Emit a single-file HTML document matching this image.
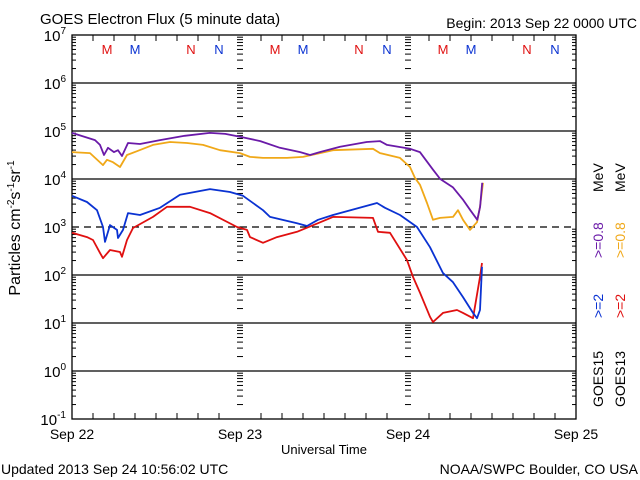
<!DOCTYPE html>
<html><head><meta charset="utf-8"><style>
body{margin:0;background:#fff;}
svg{display:block;font-family:"Liberation Sans",sans-serif;}
</style></head><body>
<svg id="c" width="640" height="480" viewBox="0 0 640 480">
<rect width="640" height="480" fill="#fff"/>
<text x="40" y="24" font-size="15">GOES Electron Flux (5 minute data)</text>
<text x="637" y="28" font-size="14" text-anchor="end">Begin: 2013 Sep 22 0000 UTC</text>
<g id="grid"></g>
<g id="axes"></g>
<g id="series"></g>
<g id="labels"></g>
<text transform="translate(20,228) rotate(-90)" font-size="16" text-anchor="middle">Particles cm<tspan font-size="10" dy="-6">-2</tspan><tspan dy="6">s</tspan><tspan font-size="10" dy="-6">-1</tspan><tspan dy="6">sr</tspan><tspan font-size="10" dy="-6">-1</tspan></text>
<text x="324" y="454" font-size="13" text-anchor="middle">Universal Time</text>
<text x="1" y="474" font-size="14">Updated 2013 Sep 24 10:56:02 UTC</text>
<text x="638" y="474" font-size="14" text-anchor="end">NOAA/SWPC Boulder, CO USA</text>
<g font-size="14">
<text transform="translate(603,407) rotate(-90)">GOES15</text>
<text transform="translate(625,407) rotate(-90)">GOES13</text>
<text transform="translate(603,318) rotate(-90)" fill="#0a32d2">&gt;=2</text>
<text transform="translate(625,318) rotate(-90)" fill="#e01010">&gt;=2</text>
<text transform="translate(603,258) rotate(-90)" fill="#6a1aa8">&gt;=0.8</text>
<text transform="translate(625,258) rotate(-90)" fill="#f0a818">&gt;=0.8</text>
<text transform="translate(603,192) rotate(-90)">MeV</text>
<text transform="translate(625,192) rotate(-90)">MeV</text>
</g>
</svg>
<script>
// data: hours since Sep 22 0000 UTC, log10 flux
const p15Hours=[0,3.29,4.0,4.57,5.14,6.0,6.57,7.14,8.0,9.71,12.57,16.1,19.7,21.9,24,26.9,29.7,32.6,34,35.4,38.3,42.1,44,45,48.3,49.7,51.6,52.6,54.4,55.9,56.9,57.9,58.3,58.6];
const p15Vals=[4.96,4.81,4.71,4.50,4.65,4.56,4.60,4.48,4.75,4.73,4.81,4.90,4.96,4.94,4.88,4.79,4.65,4.56,4.50,4.56,4.67,4.77,4.79,4.71,4.63,4.56,4.19,4.0,3.83,3.56,3.35,3.15,3.42,3.92];
const o13Hours=[0,2.57,4.43,5,5.86,6.86,7.86,9.29,11.57,14,16.43,18.71,21.14,24,25.43,27.29,30.71,33,37.29,43,44,46.86,48.29,49,49.71,50.71,51.57,52.57,54.43,55.14,55.86,56.86,57.86,58.29,58.71];
const o13Vals=[4.56,4.54,4.29,4.40,4.35,4.25,4.50,4.58,4.71,4.77,4.75,4.71,4.60,4.54,4.46,4.44,4.44,4.46,4.60,4.63,4.54,4.44,4.25,4.02,3.88,3.50,3.15,3.19,3.21,3.35,3.15,2.94,3.10,3.42,3.92];
const b15Hours=[0,2.14,3.57,4.43,4.71,5.43,6.43,6.57,7.29,8,9.71,12.57,15.43,19.71,22.57,24.43,27.29,28.29,32.14,33.57,35.14,37.29,43.57,44.71,46.86,49.29,51.14,53,54.43,55.86,57.29,57.86,58.29,58.57];
const b15Vals=[3.65,3.52,3.35,3.0,2.69,3.04,2.94,2.77,2.94,3.29,3.25,3.40,3.67,3.79,3.73,3.65,3.35,3.21,3.08,3.02,3.15,3.25,3.50,3.40,3.25,3.0,2.58,2.04,1.85,1.54,1.21,1.10,1.27,2.17];
const r13Hours=[0,2.14,3,4,4.43,5.43,6.86,7.14,7.86,8.71,11.57,13.57,16.86,19.71,23.57,25,25.43,27.29,29.29,32.14,35.14,37.29,43,43.71,45.43,47.86,48.71,49.71,51.14,51.57,53,55,55.86,57.29,58.29,58.57];
const r13Vals=[2.88,2.79,2.73,2.46,2.35,2.52,2.48,2.38,2.73,2.98,3.21,3.42,3.42,3.29,3.0,2.94,2.79,2.67,2.79,2.90,3.08,3.21,3.19,2.90,2.88,2.31,1.96,1.63,1.13,1.02,1.21,1.27,1.21,1.10,1.96,2.25];
const yTickExps=[7,6,5,4,3,2,1,0,-1];
const dayLabels=["Sep 22","Sep 23","Sep 24","Sep 25"];
const satLetters=["M","M","N","N"];
const satHours=[5,9,17,21];

const NS="http://www.w3.org/2000/svg";
const L=72,R=576,T=35,B=419;
const X=h=>L+(R-L)*h/72;
const Y=v=>T+(7-v)*(B-T)/8;
function mk(tag,attrs,parent){const e=document.createElementNS(NS,tag);for(const k in attrs)e.setAttribute(k,attrs[k]);parent.appendChild(e);return e;}
const grid=document.getElementById('grid'),axes=document.getElementById('axes'),ser=document.getElementById('series'),lab=document.getElementById('labels');

yTickExps.forEach(e=>{
  const y=Y(e);
  if(e<7&&e>-1){
    const g=mk('line',{x1:L,x2:R,y1:y,y2:y,stroke:'#000','stroke-width':1.2,'stroke-dasharray':e===3?'7,5':'none'},grid);
    
    
  }
  const t=mk('text',{x:66,y:y+6,'font-size':15,'text-anchor':'end'},lab);
  
  
  t.innerHTML='10<tspan font-size="10" dy="-7">'+e+'</tspan>';
  if(e>-1){
    for(let m=2;m<=9;m++){
      const yy=Y(e-1+Math.log10(m));
      [[L,L+4],[R-4,R]].forEach(([a,b])=>mk('line',{x1:a,x2:b,y1:yy,y2:yy,stroke:'#000'},axes));
      [168,336].forEach(dx=>mk('line',{x1:L+dx-3,x2:L+dx+3,y1:yy,y2:yy,stroke:'#000'},axes));
    }
    [168,336].forEach(dx=>mk('line',{x1:L+dx-3,x2:L+dx+3,y1:y,y2:y,stroke:'#000'},axes));
  }
});
const frame=mk('rect',{x:L,y:T,width:R-L,height:B-T,fill:'none',stroke:'#000','stroke-width':1.3},axes);


for(let h=3;h<72;h+=3){
  const x=X(h),len=(h%24===0)?0:6;
  if(len){mk('line',{x1:x,x2:x,y1:B,y2:B-len,stroke:'#000'},axes);mk('line',{x1:x,x2:x,y1:T,y2:T+len,stroke:'#000'},axes);}
}
dayLabels.forEach((d,i)=>{
  const t=mk('text',{x:X(i*24),y:439,'font-size':14,'text-anchor':'middle'},lab);
  
  
  t.textContent=d;
});
for(let day=0;day<3;day++){
  satLetters.forEach((s,i)=>{
    const t=mk('text',{x:X(day*24+satHours[i]),y:54,'font-size':13,'text-anchor':'middle',fill:(i%2===0)?'#e01010':'#0a32d2'},lab);
    
    
    t.textContent=s;
  });
}
function draw(hs,vs,color,name){
  const d=hs.map((h,i)=>(i?'L':'M')+X(h).toFixed(1)+','+Y(vs[i]).toFixed(1)).join(' ');
  const p=mk('path',{d:d,fill:'none',stroke:color,'stroke-width':1.8,'stroke-linejoin':'round'},ser);
  
  
}
draw(o13Hours,o13Vals,'#f0a818','series-goes13-08mev');
draw(p15Hours,p15Vals,'#6a1aa8','series-goes15-08mev');
draw(r13Hours,r13Vals,'#e01010','series-goes13-2mev');
draw(b15Hours,b15Vals,'#0a32d2','series-goes15-2mev');
</script>
</body></html>
